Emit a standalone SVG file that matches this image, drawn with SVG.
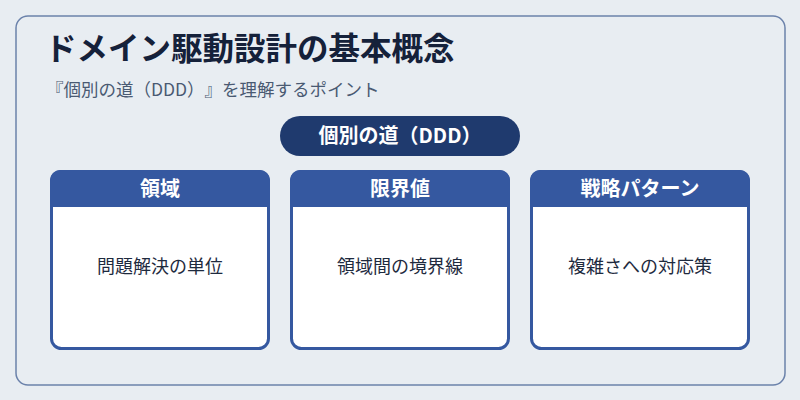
<svg xmlns="http://www.w3.org/2000/svg" width="800" height="400" viewBox="0 0 800 400">
  <style>
    text { font-family: "Noto Sans CJK JP", "Noto Sans", sans-serif; text-spacing-trim: space-all; }
    .title { font-size: 31.5px; font-weight: 700; fill: #15213a; }
    .sub { font-size: 17.5px; fill: #4a5a72; }
    .pill-text { font-size: 20px; font-weight: 700; fill: #ffffff; }
    .card-body { fill: #ffffff; stroke: #3558a0; stroke-width: 3; }
    .card-head { fill: #3558a0; }
    .head-text { font-size: 20px; font-weight: 700; fill: #ffffff; }
    .body-text { font-size: 18px; fill: #1e2a3e; }
  </style>
  <rect x="0" y="0" width="800" height="400" fill="#e8edf2"/>
  <rect x="16" y="16" width="769" height="369" rx="12" fill="#e8edf2" stroke="#6b82ab" stroke-width="1.5"/>
  <text class="title" x="45" y="60">ドメイン駆動設計の基本概念</text>
  <text class="sub" x="46" y="96">『個別の道（DDD）』を理解するポイント</text>
  <g id="pill">
    <rect x="280" y="116" width="240" height="40" rx="20" fill="#1f3a6e"/>
    <text class="pill-text" x="400" y="143" text-anchor="middle">個別の道（DDD）</text>
  </g>
  <g id="connectors"></g>
  <g id="card1">
    <rect class="card-body" x="51.5" y="171.5" width="217" height="177" rx="10"/>
    <path class="card-head" d="M50,207 V180 a10,10 0 0 1 10,-10 H260 a10,10 0 0 1 10,10 V207 Z"/>
    <text class="head-text" x="160" y="196" text-anchor="middle">領域</text>
    <text class="body-text" x="160" y="273" text-anchor="middle">問題解決の単位</text>
  </g>
  <g id="card2">
    <rect class="card-body" x="291.5" y="171.5" width="217" height="177" rx="10"/>
    <path class="card-head" d="M290,207 V180 a10,10 0 0 1 10,-10 H500 a10,10 0 0 1 10,10 V207 Z"/>
    <text class="head-text" x="400" y="196" text-anchor="middle">限界値</text>
    <text class="body-text" x="400" y="273" text-anchor="middle">領域間の境界線</text>
  </g>
  <g id="card3">
    <rect class="card-body" x="531.5" y="171.5" width="217" height="177" rx="10"/>
    <path class="card-head" d="M530,207 V180 a10,10 0 0 1 10,-10 H740 a10,10 0 0 1 10,10 V207 Z"/>
    <text class="head-text" x="640" y="196" text-anchor="middle">戦略パターン</text>
    <text class="body-text" x="640" y="273" text-anchor="middle">複雑さへの対応策</text>
  </g>
</svg>
